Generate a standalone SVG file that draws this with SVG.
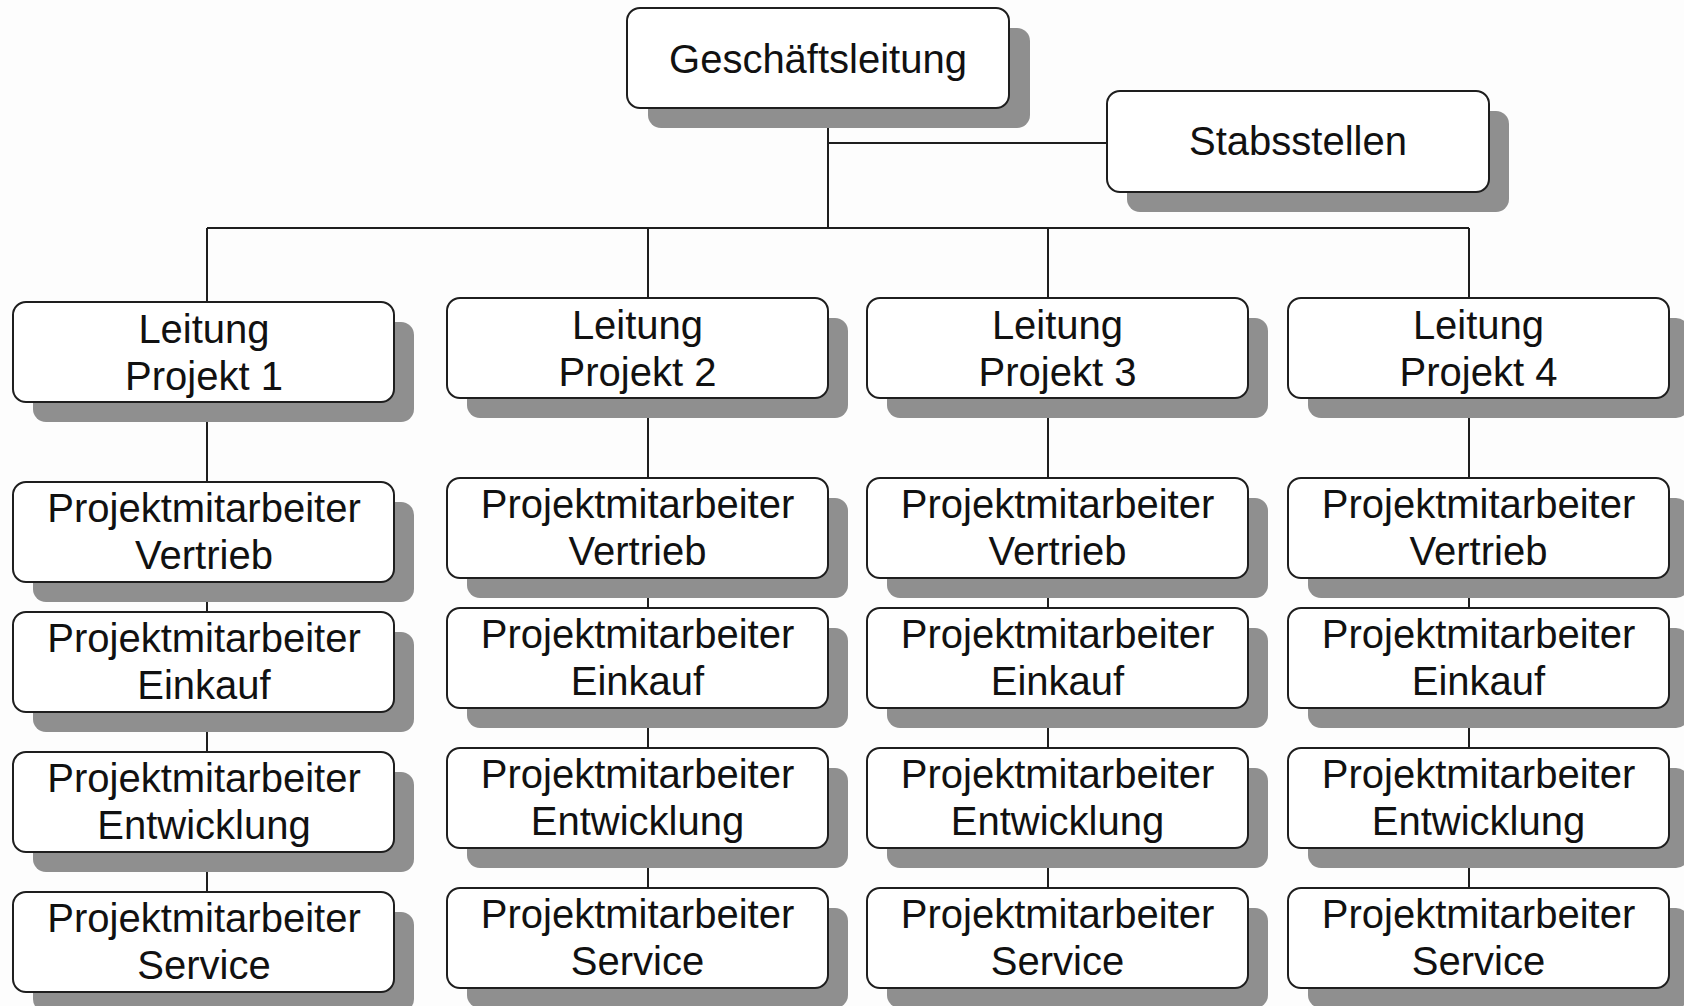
<svg xmlns="http://www.w3.org/2000/svg" width="1684" height="1006" viewBox="0 0 1684 1006">
<defs>
<style>
.sh{fill:#8f8f8f;}
.bx{fill:#ffffff;stroke:#1e1e1e;stroke-width:2;}
.t{font-family:"Liberation Sans",Arial,sans-serif;font-size:40px;fill:#111;text-anchor:middle;}
.c{stroke:#1e1e1e;stroke-width:2;fill:none;}
</style>
</defs>
<rect width="1684" height="1006" fill="#fdfdfd"/>
<g id="connectors">
<path class="c" d="M828 108V228M828 143H1107M207 228H1469M207 228V302M648 228V298M1048 228V298M1469 228V297"/>
<path class="c" d="M207 402V482M207 582V612M207 712V752M207 852V892"/>
<path class="c" d="M648 398V478M648 578V608M648 708V748M648 848V888"/>
<path class="c" d="M1048 398V478M1048 578V608M1048 708V748M1048 848V888"/>
<path class="c" d="M1469 398V478M1469 578V608M1469 708V748M1469 848V888"/>
</g>
<g id="geschaeftsleitung">
<rect class="sh" x="648" y="28" width="382" height="100" rx="13"/>
<rect class="bx" x="627" y="8" width="382" height="100" rx="13"/>
<text class="t" x="818" y="73">Geschäftsleitung</text>
</g>
<g id="stabsstellen">
<rect class="sh" x="1127" y="111" width="382" height="101" rx="13"/>
<rect class="bx" x="1107" y="91" width="382" height="101" rx="13"/>
<text class="t" x="1298" y="155">Stabsstellen</text>
</g>
<g id="leitung1">
<rect class="sh" x="33" y="322" width="381" height="100" rx="13"/>
<rect class="bx" x="13" y="302" width="381" height="100" rx="13"/>
<text class="t" x="204" y="343">Leitung</text><text class="t" x="204" y="390">Projekt 1</text>
</g>
<g id="vertrieb1">
<rect class="sh" x="33" y="502" width="381" height="100" rx="13"/>
<rect class="bx" x="13" y="482" width="381" height="100" rx="13"/>
<text class="t" x="204" y="522">Projektmitarbeiter</text><text class="t" x="204" y="569">Vertrieb</text>
</g>
<g id="einkauf1">
<rect class="sh" x="33" y="632" width="381" height="100" rx="13"/>
<rect class="bx" x="13" y="612" width="381" height="100" rx="13"/>
<text class="t" x="204" y="652">Projektmitarbeiter</text><text class="t" x="204" y="699">Einkauf</text>
</g>
<g id="entwicklung1">
<rect class="sh" x="33" y="772" width="381" height="100" rx="13"/>
<rect class="bx" x="13" y="752" width="381" height="100" rx="13"/>
<text class="t" x="204" y="792">Projektmitarbeiter</text><text class="t" x="204" y="839">Entwicklung</text>
</g>
<g id="service1">
<rect class="sh" x="33" y="912" width="381" height="100" rx="13"/>
<rect class="bx" x="13" y="892" width="381" height="100" rx="13"/>
<text class="t" x="204" y="932">Projektmitarbeiter</text><text class="t" x="204" y="979">Service</text>
</g>
<g id="leitung2">
<rect class="sh" x="467" y="318" width="381" height="100" rx="13"/>
<rect class="bx" x="447" y="298" width="381" height="100" rx="13"/>
<text class="t" x="637.5" y="339">Leitung</text><text class="t" x="637.5" y="386">Projekt 2</text>
</g>
<g id="vertrieb2">
<rect class="sh" x="467" y="498" width="381" height="100" rx="13"/>
<rect class="bx" x="447" y="478" width="381" height="100" rx="13"/>
<text class="t" x="637.5" y="518">Projektmitarbeiter</text><text class="t" x="637.5" y="565">Vertrieb</text>
</g>
<g id="einkauf2">
<rect class="sh" x="467" y="628" width="381" height="100" rx="13"/>
<rect class="bx" x="447" y="608" width="381" height="100" rx="13"/>
<text class="t" x="637.5" y="648">Projektmitarbeiter</text><text class="t" x="637.5" y="695">Einkauf</text>
</g>
<g id="entwicklung2">
<rect class="sh" x="467" y="768" width="381" height="100" rx="13"/>
<rect class="bx" x="447" y="748" width="381" height="100" rx="13"/>
<text class="t" x="637.5" y="788">Projektmitarbeiter</text><text class="t" x="637.5" y="835">Entwicklung</text>
</g>
<g id="service2">
<rect class="sh" x="467" y="908" width="381" height="100" rx="13"/>
<rect class="bx" x="447" y="888" width="381" height="100" rx="13"/>
<text class="t" x="637.5" y="928">Projektmitarbeiter</text><text class="t" x="637.5" y="975">Service</text>
</g>
<g id="leitung3">
<rect class="sh" x="887" y="318" width="381" height="100" rx="13"/>
<rect class="bx" x="867" y="298" width="381" height="100" rx="13"/>
<text class="t" x="1057.5" y="339">Leitung</text><text class="t" x="1057.5" y="386">Projekt 3</text>
</g>
<g id="vertrieb3">
<rect class="sh" x="887" y="498" width="381" height="100" rx="13"/>
<rect class="bx" x="867" y="478" width="381" height="100" rx="13"/>
<text class="t" x="1057.5" y="518">Projektmitarbeiter</text><text class="t" x="1057.5" y="565">Vertrieb</text>
</g>
<g id="einkauf3">
<rect class="sh" x="887" y="628" width="381" height="100" rx="13"/>
<rect class="bx" x="867" y="608" width="381" height="100" rx="13"/>
<text class="t" x="1057.5" y="648">Projektmitarbeiter</text><text class="t" x="1057.5" y="695">Einkauf</text>
</g>
<g id="entwicklung3">
<rect class="sh" x="887" y="768" width="381" height="100" rx="13"/>
<rect class="bx" x="867" y="748" width="381" height="100" rx="13"/>
<text class="t" x="1057.5" y="788">Projektmitarbeiter</text><text class="t" x="1057.5" y="835">Entwicklung</text>
</g>
<g id="service3">
<rect class="sh" x="887" y="908" width="381" height="100" rx="13"/>
<rect class="bx" x="867" y="888" width="381" height="100" rx="13"/>
<text class="t" x="1057.5" y="928">Projektmitarbeiter</text><text class="t" x="1057.5" y="975">Service</text>
</g>
<g id="leitung4">
<rect class="sh" x="1308" y="318" width="381" height="100" rx="13"/>
<rect class="bx" x="1288" y="298" width="381" height="100" rx="13"/>
<text class="t" x="1478.5" y="339">Leitung</text><text class="t" x="1478.5" y="386">Projekt 4</text>
</g>
<g id="vertrieb4">
<rect class="sh" x="1308" y="498" width="381" height="100" rx="13"/>
<rect class="bx" x="1288" y="478" width="381" height="100" rx="13"/>
<text class="t" x="1478.5" y="518">Projektmitarbeiter</text><text class="t" x="1478.5" y="565">Vertrieb</text>
</g>
<g id="einkauf4">
<rect class="sh" x="1308" y="628" width="381" height="100" rx="13"/>
<rect class="bx" x="1288" y="608" width="381" height="100" rx="13"/>
<text class="t" x="1478.5" y="648">Projektmitarbeiter</text><text class="t" x="1478.5" y="695">Einkauf</text>
</g>
<g id="entwicklung4">
<rect class="sh" x="1308" y="768" width="381" height="100" rx="13"/>
<rect class="bx" x="1288" y="748" width="381" height="100" rx="13"/>
<text class="t" x="1478.5" y="788">Projektmitarbeiter</text><text class="t" x="1478.5" y="835">Entwicklung</text>
</g>
<g id="service4">
<rect class="sh" x="1308" y="908" width="381" height="100" rx="13"/>
<rect class="bx" x="1288" y="888" width="381" height="100" rx="13"/>
<text class="t" x="1478.5" y="928">Projektmitarbeiter</text><text class="t" x="1478.5" y="975">Service</text>
</g>
</svg>
